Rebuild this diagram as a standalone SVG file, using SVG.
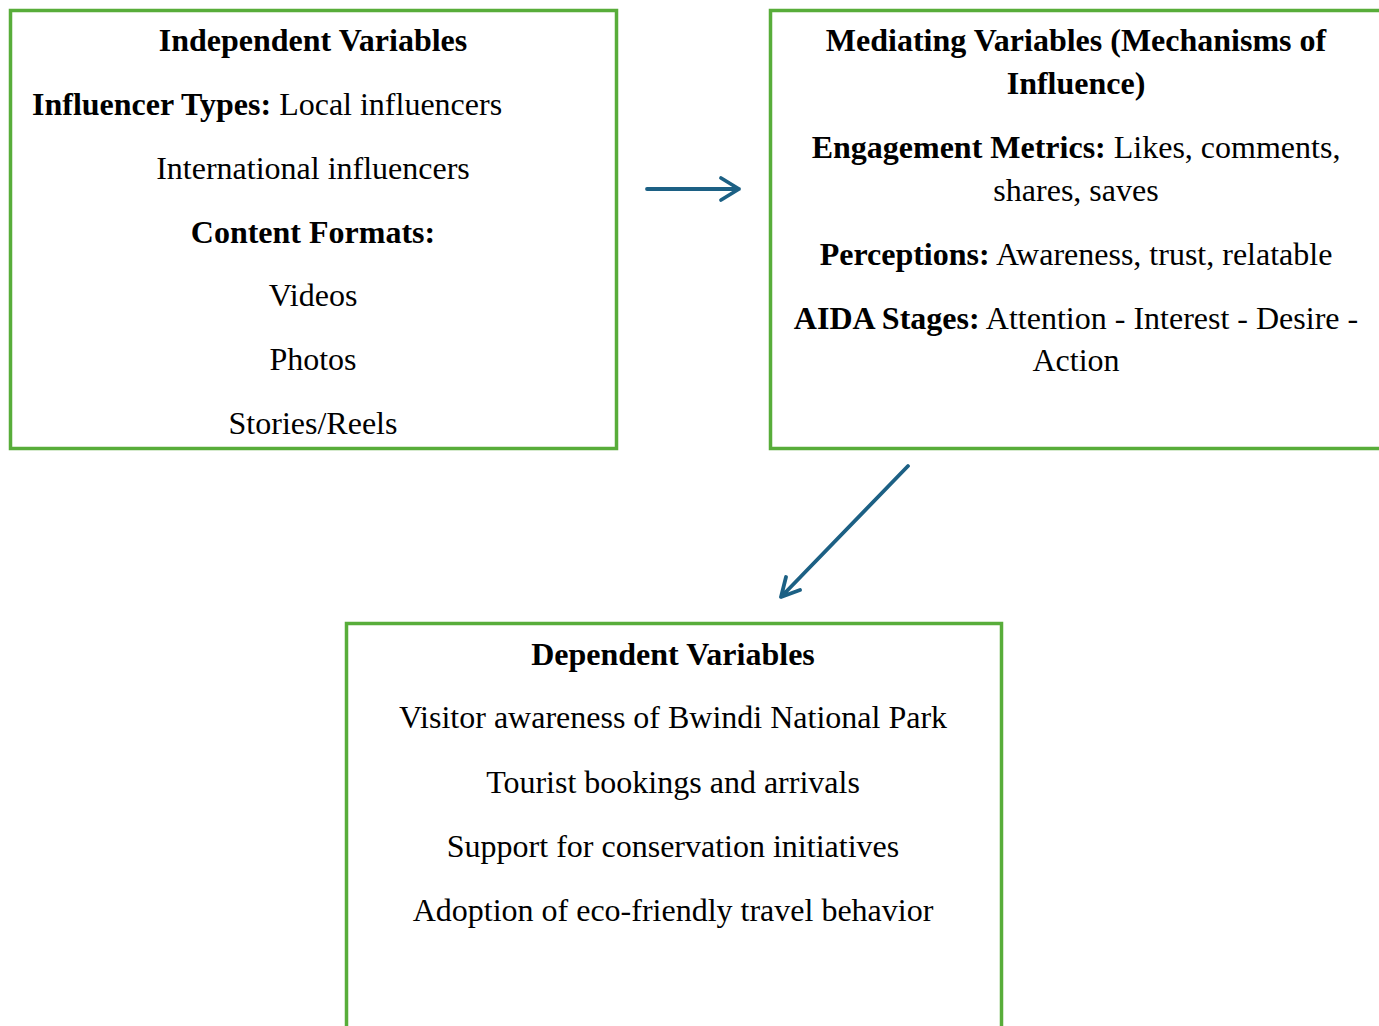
<svg xmlns="http://www.w3.org/2000/svg" width="1379" height="1026" viewBox="0 0 1379 1026">
<style>
.box{fill:none;stroke:#58ad3a;stroke-width:3.5}
text{font-family:"Liberation Serif","Times New Roman",serif;font-size:32px;fill:#000;text-anchor:middle}
.b{font-weight:bold}
.conn{fill:none;stroke:#1c6084;stroke-width:3.8;stroke-linecap:round;stroke-linejoin:round}
</style>
<rect width="1379" height="1026" fill="#fff"/>
<g id="independent">
<rect class="box" x="10.5" y="10.5" width="606" height="438"/>
<text class="b" x="313" y="51">Independent Variables</text>
<text x="32" y="115" style="text-anchor:start"><tspan class="b">Influencer Types:</tspan> Local influencers</text>
<text x="313" y="179">International influencers</text>
<text class="b" x="313" y="243">Content Formats:</text>
<text x="313" y="306">Videos</text>
<text x="313" y="370">Photos</text>
<text x="313" y="434">Stories/Reels</text>
</g>
<g id="mediating">
<rect class="box" x="770.5" y="10.5" width="640" height="438"/>
<text class="b" x="1076" y="51">Mediating Variables (Mechanisms of</text>
<text class="b" x="1076" y="94">Influence)</text>
<text x="1076" y="158"><tspan class="b">Engagement Metrics:</tspan> Likes, comments,</text>
<text x="1076" y="201">shares, saves</text>
<text x="1076" y="265"><tspan class="b">Perceptions:</tspan> Awareness, trust, relatable</text>
<text x="1076" y="329"><tspan class="b">AIDA Stages:</tspan> Attention - Interest - Desire -</text>
<text x="1076" y="371">Action</text>
</g>
<g id="dependent">
<rect class="box" x="346.5" y="623.5" width="655" height="450"/>
<text class="b" x="673" y="665">Dependent Variables</text>
<text x="673" y="728">Visitor awareness of Bwindi National Park</text>
<text x="673" y="793">Tourist bookings and arrivals</text>
<text x="673" y="857">Support for conservation initiatives</text>
<text x="673" y="921">Adoption of eco-friendly travel behavior</text>
</g>
<g id="connectors">
<path class="conn" d="M647 189 H739 M721 178 L739 189 L721 200"/>
<path class="conn" d="M908 466 L781 597 M786 577 L781 597 L800 590"/>
</g>
</svg>
